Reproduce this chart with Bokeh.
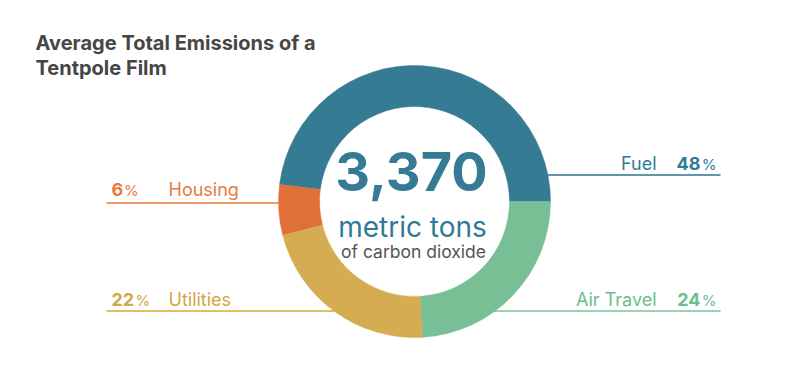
import numpy as np
from bokeh.plotting import figure
from bokeh.models import Range1d, ColumnDataSource
from bokeh.core.properties import value
from bokeh.embed import file_html
from bokeh.resources import INLINE

# ---------------- data ----------------
title_lines = ["Average Total Emissions of a", "Tentpole Film"]
categories = ["Fuel", "Housing", "Utilities", "Air Travel"]
percents = [48, 6, 22, 24]
total_tons = 3370
unit_label = "metric tons"
sub_label = "of carbon dioxide"

# ---------------- styles ----------------
slice_colors = ["#367B94", "#E07038", "#D5AC52", "#79BF95"]
text_colors = ["#2F7A96", "#E8793F", "#D3A646", "#6DBE8E"]
line_colors = ["#2F7391", "#E8772E", "#D9A93A", "#79C497"]
FONT = "Inter"

# ---------------- layout (page pixels) ----------------
W, H = 784, 355
def X(px):
    return px
def Y(py):
    return H - py
def TY(baseline, fs):
    # rendered baseline sits ~0.36*fs below the anchor
    return Y(baseline - 0.36 * fs)

label_layout = {
    "Fuel":       dict(side="right", line_y=174.5, text_y=169),
    "Housing":    dict(side="left",  line_y=202.5, text_y=195),
    "Utilities":  dict(side="left",  line_y=310.5, text_y=305),
    "Air Travel": dict(side="right", line_y=310.5, text_y=305.5),
}
CX, CY = 414, 201
R_IN, R_OUT = 95, 136

p = figure(width=W, height=H, x_range=Range1d(0, W), y_range=Range1d(0, H),
           output_backend="svg", toolbar_location=None, min_border=0)
p.axis.visible = False
p.grid.visible = False
p.outline_line_color = None
p.background_fill_color = "white"
p.border_fill_color = "white"

cx, cy = X(CX), Y(CY)

# leader lines (drawn behind the donut)
for cat, lc in zip(categories, line_colors):
    lay = label_layout[cat]
    if lay["side"] == "left":
        xs = [X(106), cx]
    else:
        xs = [cx, X(720)]
    p.line(xs, [Y(lay["line_y"])] * 2, line_color=lc, line_width=1.6)

# white hole
p.circle(x=[cx], y=[cy], radius=R_IN, fill_color="white", line_color=None)

# donut
frac = np.array(percents, dtype=float) / sum(percents)
ends = np.cumsum(frac) * 2 * np.pi
starts = ends - frac * 2 * np.pi
src = ColumnDataSource(dict(start=starts, end=ends, color=slice_colors))
p.annular_wedge(x=cx, y=cy, inner_radius=R_IN, outer_radius=R_OUT,
                start_angle="start", end_angle="end", direction="anticlock",
                fill_color="color", line_color="color", line_width=0.5, source=src)

# center texts
p.text(x=[X(411)], y=[TY(190, 54)], text=[f"{total_tons:,}"], text_font=value(FONT),
       text_font_style="bold", text_font_size="54px", text_color="#367B94",
       text_align="center", text_baseline="alphabetic")
p.text(x=[X(412)], y=[TY(237, 28)], text=[unit_label], text_font=value(FONT),
       text_font_size="28px", text_color="#2F7A96",
       text_align="center", text_baseline="alphabetic")
p.text(x=[X(413)], y=[TY(257, 17.5)], text=[sub_label], text_font=value(FONT),
       text_font_size="17.5px", text_color="#555555",
       text_align="center", text_baseline="alphabetic")

# category labels
DIGIT_W = 11.5
for cat, pct, tc in zip(categories, percents, text_colors):
    lay = label_layout[cat]
    ty = TY(lay["text_y"], 18)
    ty_pct = TY(lay["text_y"], 15)
    num = str(pct)
    if lay["side"] == "left":
        nx = X(111)
        p.text(x=[nx], y=[ty], text=[num], text_font=value(FONT), text_font_style="bold",
               text_font_size="18px", text_color=tc, text_align="left", text_baseline="alphabetic")
        p.text(x=[nx + DIGIT_W * len(num) + 1], y=[ty_pct], text=["%"], text_font=value(FONT),
               text_font_size="15px", text_color=tc, text_align="left", text_baseline="alphabetic")
        p.text(x=[X(168)], y=[ty], text=[cat], text_font=value(FONT),
               text_font_size="18px", text_color=tc, text_align="left", text_baseline="alphabetic")
    else:
        p.text(x=[X(716)], y=[ty_pct], text=["%"], text_font=value(FONT),
               text_font_size="15px", text_color=tc, text_align="right", text_baseline="alphabetic")
        p.text(x=[X(700)], y=[ty], text=[num], text_font=value(FONT), text_font_style="bold",
               text_font_size="18px", text_color=tc, text_align="right", text_baseline="alphabetic")
        p.text(x=[X(656)], y=[ty], text=[cat], text_font=value(FONT),
               text_font_size="18px", text_color=tc, text_align="right", text_baseline="alphabetic")

# title
for i, line in enumerate(title_lines):
    p.text(x=[X(35)], y=[TY(50 + 25 * i, 20)], text=[line], text_font=value(FONT),
           text_font_style="bold", text_font_size="20px", text_color="#464646",
           text_align="left", text_baseline="alphabetic")

open("out.html", "w").write(file_html(p, INLINE))
